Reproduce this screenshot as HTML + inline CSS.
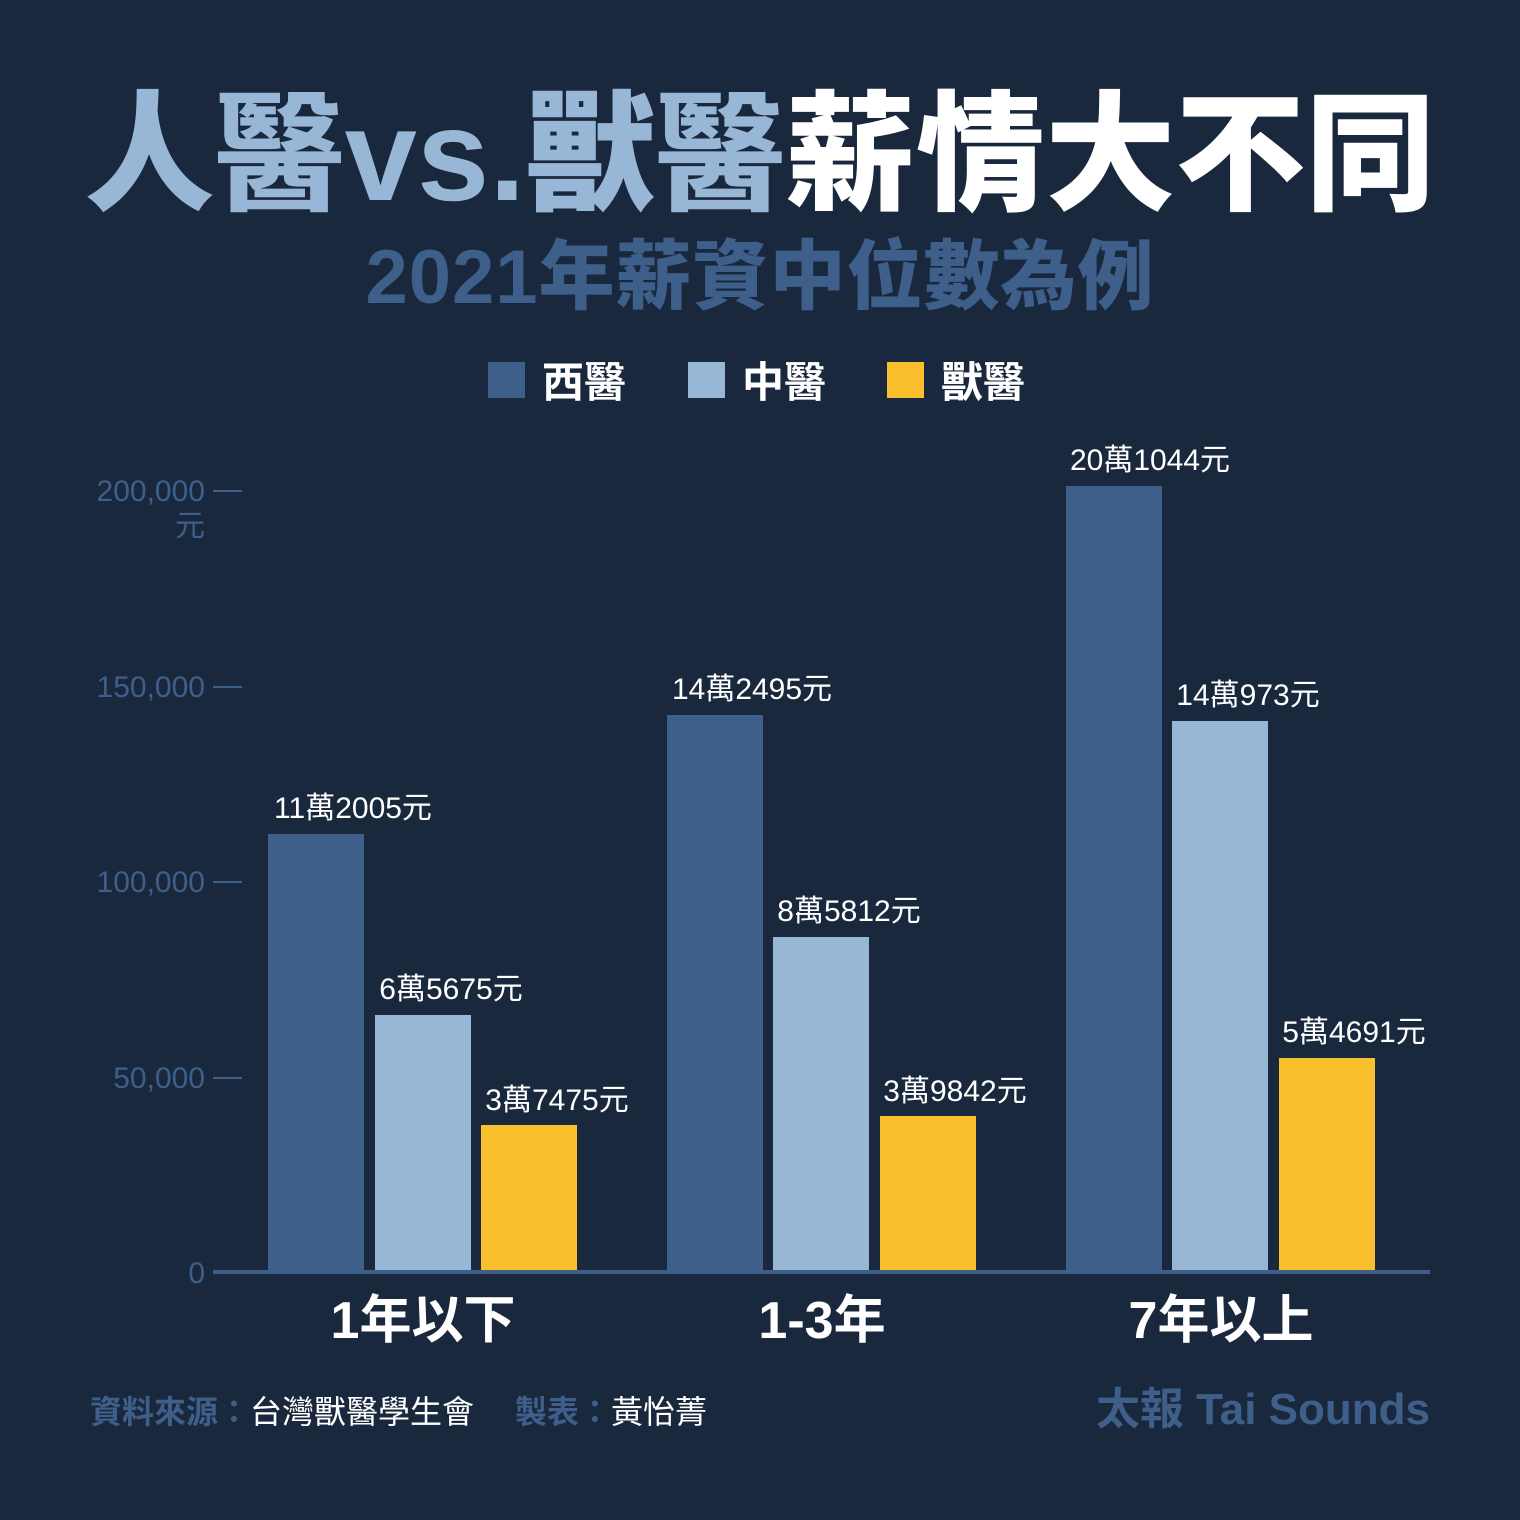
<!DOCTYPE html>
<html><head><meta charset="utf-8"><style>
body{margin:0;width:1520px;height:1520px;background:#1a283d;position:relative;overflow:hidden;font-family:"Liberation Sans","Noto Sans CJK TC",sans-serif;}
.a{position:absolute;white-space:nowrap;}
.bar{position:absolute;width:96px;}
.d{background:#3e5f8a}.l{background:#98b6d5}.y{background:#f9bf2c}
.v{position:absolute;color:#fff;font-size:30px;transform:translateX(-50%);white-space:nowrap;line-height:1}
.t{position:absolute;color:#3e5f8a;font-size:30px;right:1315px;line-height:1}
.k{position:absolute;left:213px;width:29px;height:2px;background:#3e5f8a}
.c{position:absolute;color:#fff;font-size:52px;font-weight:bold;transform:translateX(-50%);white-space:nowrap;line-height:1}
</style></head><body>
<div class="a" style="left:0;width:1520px;text-align:center;top:84px;font-size:130px;font-weight:900;line-height:1.1;letter-spacing:0px;"><span style="color:#98b6d5">人醫vs.獸醫</span><span style="color:#fff">薪情大不同</span></div>
<div class="a" style="left:0;width:1520px;text-align:center;top:236px;font-size:76px;font-weight:900;color:#3e5f8a;line-height:1.1;letter-spacing:1px">2021年薪資中位數為例</div>

<div class="a d" style="left:488px;top:362px;width:37px;height:36px"></div>
<div class="a" style="left:542px;top:349px;font-size:42px;font-weight:bold;color:#fff">西醫</div>
<div class="a l" style="left:688px;top:362px;width:37px;height:36px"></div>
<div class="a" style="left:742px;top:349px;font-size:42px;font-weight:bold;color:#fff">中醫</div>
<div class="a y" style="left:887px;top:362px;width:37px;height:36px"></div>
<div class="a" style="left:941px;top:349px;font-size:42px;font-weight:bold;color:#fff">獸醫</div>

<div class="t" style="top:477px">200,000</div><div class="t" style="top:512px">元</div><div class="k" style="top:490px"></div>
<div class="t" style="top:673px">150,000</div><div class="k" style="top:686px"></div>
<div class="t" style="top:868px">100,000</div><div class="k" style="top:881px"></div>
<div class="t" style="top:1064px">50,000</div><div class="k" style="top:1077px"></div>
<div class="t" style="top:1259px">0</div>

<div class="bar d" style="left:268px;top:834px;height:438px"></div>
<div class="bar l" style="left:375px;top:1015px;height:257px"></div>
<div class="bar y" style="left:481px;top:1125px;height:147px"></div>
<div class="bar d" style="left:667px;top:715px;height:557px"></div>
<div class="bar l" style="left:773px;top:937px;height:335px"></div>
<div class="bar y" style="left:880px;top:1116px;height:156px"></div>
<div class="bar d" style="left:1066px;top:486px;height:786px"></div>
<div class="bar l" style="left:1172px;top:721px;height:551px"></div>
<div class="bar y" style="left:1279px;top:1058px;height:214px"></div>
<div class="a" style="left:213px;top:1270px;width:1217px;height:4px;background:#3e5f8a"></div>

<div class="v" style="left:353px;top:794px">11萬2005元</div>
<div class="v" style="left:451px;top:975px">6萬5675元</div>
<div class="v" style="left:557px;top:1086px">3萬7475元</div>
<div class="v" style="left:752px;top:675px">14萬2495元</div>
<div class="v" style="left:849px;top:897px">8萬5812元</div>
<div class="v" style="left:955px;top:1077px">3萬9842元</div>
<div class="v" style="left:1150px;top:446px">20萬1044元</div>
<div class="v" style="left:1248px;top:681px">14萬973元</div>
<div class="v" style="left:1354px;top:1018px">5萬4691元</div>

<div class="c" style="left:423px;top:1295px">1年以下</div>
<div class="c" style="left:822px;top:1295px">1-3年</div>
<div class="c" style="left:1221px;top:1295px">7年以上</div>

<div class="a" style="left:90px;top:1395px;font-size:32px;color:#fff;line-height:1.1"><b style="color:#3e5f8a">資料來源：</b>台灣獸醫學生會　 <b style="color:#3e5f8a">製表：</b>黃怡菁</div>
<div class="a" style="right:90px;top:1386px;font-size:44px;font-weight:bold;color:#3e5f8a;line-height:1.1">太報 Tai Sounds</div>
</body></html>
